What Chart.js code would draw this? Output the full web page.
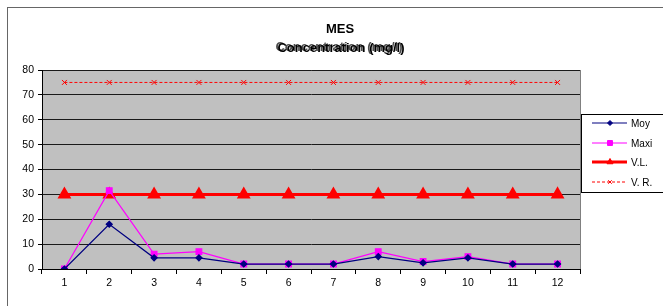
<!DOCTYPE html>
<html lang="fr">
<head>
<meta charset="UTF-8" />
<title>MES</title>
<script src="https://cdn.jsdelivr.net/npm/chart.js"></script>
<style>
  html, body { margin: 0; padding: 0; background: #fff; overflow: hidden; }
  .frame {
    position: absolute; left: 7px; top: 7px; width: 700px; height: 320px;
    border: 1px solid #666;
  }
  #chart { position: absolute; left: 0; top: 0; }
</style>
</head>
<body>
<div class="frame"></div>
<canvas id="chart" width="663" height="306"></canvas>
<script>
  // sampling points
  const labels = ["1", "2", "3", "4", "5", "6", "7", "8", "9", "10", "11", "12"];
  const moy = [0, 18, 4.5, 4.5, 2, 2, 2, 5, 2.5, 4.5, 2, 2];
  const maxi = [0, 31.5, 6, 7, 2, 2, 2, 7, 3, 5, 2, 2];
  const vl = [30, 30, 30, 30, 30, 30, 30, 30, 30, 30, 30, 30];
  const vr = [75, 75, 75, 75, 75, 75, 75, 75, 75, 75, 75, 75];

  const FONT = "'Liberation Sans', Arial, sans-serif";

  const decor = {
    id: "decor",
    beforeDraw(chart) {
      const { ctx, chartArea: a } = chart;
      ctx.save();
      ctx.fillStyle = "#c0c0c0";
      ctx.fillRect(a.left, a.top, a.right - a.left, a.bottom - a.top);
      ctx.strokeStyle = "#808080";
      ctx.lineWidth = 1;
      ctx.strokeRect(a.left + 0.5, a.top + 0.5, a.right - a.left, a.bottom - a.top);
      ctx.restore();
    },
    afterDraw(chart) {
      const ctx = chart.ctx;
      ctx.save();
      // titles
      ctx.textAlign = "center";
      ctx.textBaseline = "middle";
      ctx.font = "bold 13px " + FONT;
      ctx.fillStyle = "#000";
      ctx.fillText("MES", 340, 29);
      ctx.fillStyle = "rgba(0,0,0,0.7)";
      ctx.fillText("Concentration (mg/l)", 339, 47);
      ctx.fillStyle = "#000";
      ctx.fillText("Concentration (mg/l)", 341, 48);

      // legend box
      ctx.fillStyle = "#fff";
      ctx.fillRect(581, 114, 90, 78);
      ctx.strokeStyle = "#000";
      ctx.lineWidth = 1;
      ctx.strokeRect(581.5, 114.5, 90, 78);

      const rows = [123, 143, 162, 182];
      const sizes = [2.5, 3.5, 3.5, 2.5];
      chart.data.datasets.forEach((ds, i) => {
        const y = rows[i];
        ctx.save();
        ctx.strokeStyle = ds.borderColor;
        ctx.lineWidth = ds.borderWidth;
        ctx.setLineDash(ds.borderDash || []);
        ctx.beginPath();
        ctx.moveTo(592, y);
        ctx.lineTo(627, y);
        ctx.stroke();
        ctx.setLineDash([]);
        ctx.fillStyle = ds.pointBackgroundColor;
        ctx.strokeStyle = ds.pointBorderColor;
        ctx.lineWidth = 1;
        Chart.helpers.drawPoint(ctx, {
          pointStyle: ds.pointStyle,
          radius: sizes[i],
          borderWidth: 1,
          rotation: 0
        }, 610, y);
        ctx.restore();
        ctx.fillStyle = "#000";
        ctx.textAlign = "left";
        ctx.font = "10px " + FONT;
        ctx.fillText(ds.label, 631, y + 1);
      });
      ctx.restore();
    }
  };

  new Chart(document.getElementById("chart"), {
    type: "line",
    data: {
      labels: labels,
      datasets: [
        {
          label: "Moy",
          data: moy,
          borderColor: "#000080",
          backgroundColor: "#000080",
          pointBackgroundColor: "#000080",
          pointBorderColor: "#000080",
          borderWidth: 1.2,
          pointStyle: "rectRot",
          pointRadius: 3
        },
        {
          label: "Maxi",
          data: maxi,
          borderColor: "#ff00ff",
          backgroundColor: "#ff00ff",
          pointBackgroundColor: "#ff00ff",
          pointBorderColor: "#ff00ff",
          borderWidth: 1.2,
          pointStyle: "rect",
          pointRadius: 4
        },
        {
          label: "V.L.",
          data: vl,
          borderColor: "#ff0000",
          backgroundColor: "#ff0000",
          pointBackgroundColor: "#ff0000",
          pointBorderColor: "#ff0000",
          borderWidth: 3,
          pointStyle: "triangle",
          pointRadius: 5
        },
        {
          label: "V. R.",
          data: vr,
          borderColor: "#ff0000",
          backgroundColor: "#ff0000",
          pointBackgroundColor: "#ff0000",
          pointBorderColor: "#ff0000",
          borderWidth: 1,
          borderDash: [3, 2],
          pointStyle: "crossRot",
          pointRadius: 3.5
        }
      ]
    },
    options: {
      responsive: false,
      animation: false,
      events: [],
      layout: { padding: { left: 0, top: 70, right: 83, bottom: 0 } },
      plugins: { legend: { display: false }, title: { display: false }, tooltip: { enabled: false } },
      elements: { line: { tension: 0 } },
      scales: {
        x: {
          offset: true,
          afterFit(s) { s.height = 37; },
          border: { color: "#000", width: 1 },
          grid: { offset: true, drawOnChartArea: false, drawTicks: true, tickLength: 5, tickColor: "#000" },
          ticks: { color: "#000", font: { family: FONT, size: 10.5 }, padding: 3, maxRotation: 0 }
        },
        y: {
          min: 0,
          max: 80,
          afterFit(s) { s.width = 42; },
          border: { color: "#000", width: 1 },
          grid: { color: "#1a1a1a", lineWidth: 1, tickLength: 4, tickColor: "#000" },
          ticks: { stepSize: 10, color: "#000", font: { family: FONT, size: 10.5 }, padding: 4 }
        }
      }
    },
    plugins: [decor]
  });
</script>
</body>
</html>
